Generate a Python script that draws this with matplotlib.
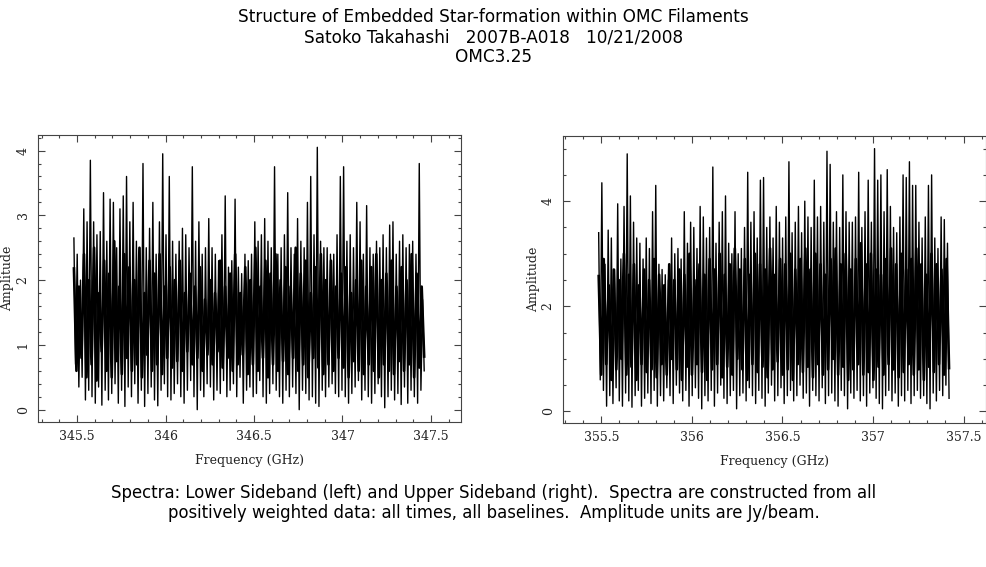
import numpy as np
import matplotlib
matplotlib.use("Agg")
import matplotlib.pyplot as plt
from matplotlib.ticker import MultipleLocator

# ---------------- data ----------------
title_lines = ["Structure of Embedded Star-formation within OMC Filaments",
               "Satoko Takahashi   2007B-A018   10/21/2008",
               "OMC3.25"]
caption_lines = ["Spectra: Lower Sideband (left) and Upper Sideband (right).  Spectra are constructed from all",
                 "positively weighted data: all times, all baselines.  Amplitude units are Jy/beam."]

lsb_range = [345.482, 347.462]   # GHz, first/last channel
usb_range = [355.485, 357.420]

# spike tops and deep dips along the band, left to right
lsb_peaks = [2.65, 2.4, 2.0, 3.1, 2.9, 3.85, 2.9, 2.7, 2.75, 3.35,
             2.6, 3.25, 3.2, 2.5, 3.1, 3.3, 3.6, 2.9, 3.2, 2.6,
             2.5, 3.8, 2.5, 2.8, 3.2, 2.4, 2.9, 3.95, 2.7, 3.6,
             2.6, 2.4, 2.6, 2.8, 2.7, 2.5, 3.75, 2.6, 2.9, 2.4,
             2.5, 2.95, 2.5, 2.4, 2.3, 2.7, 3.3, 2.2, 2.3, 3.25,
             2.2, 2.1, 2.4, 2.3, 2.4, 2.9, 2.6, 2.7, 2.95, 2.6,
             2.5, 3.75, 2.4, 2.5, 2.7, 3.35, 2.5, 2.4, 2.95, 2.6,
             2.5, 3.2, 3.6, 2.7, 4.05, 2.6, 2.5, 2.5, 2.4, 2.4,
             2.7, 3.6, 3.75, 2.6, 2.7, 2.5, 3.2, 2.9, 2.4, 3.15,
             2.5, 2.4, 2.6, 2.5, 2.7, 2.5, 2.85, 2.9, 2.4, 2.6,
             2.7, 2.5, 2.55, 2.6, 2.4, 3.8, 1.7]
lsb_dips = [0.7, 0.35, 0.5, 0.15, 0.3, 0.2, 0.1, 0.35, 0.07, 0.3,
            0.15, 0.25, 0.4, 0.1, 0.3, 0.05, 0.35, 0.2, 0.4, 0.1,
            0.3, 0.05, 0.25, 0.35, 0.15, 0.06, 0.3, 0.4, 0.2, 0.15,
            0.25, 0.4, 0.2, 0.1, 0.3, 0.45, 0.2, 0.0, 0.3, 0.2,
            0.4, 0.35, 0.15, 0.3, 0.25, 0.45, 0.2, 0.3, 0.4, 0.2,
            0.5, 0.1, 0.3, 0.35, 0.2, 0.25, 0.45, 0.2, 0.1, 0.25,
            0.4, 0.3, 0.2, 0.1, 0.3, 0.2, 0.35, 0.25, 0.0, 0.3,
            0.25, 0.15, 0.2, 0.1, 0.05, 0.3, 0.2, 0.35, 0.4, 0.25,
            0.2, 0.3, 0.2, 0.1, 0.25, 0.35, 0.45, 0.15, 0.3, 0.2,
            0.1, 0.25, 0.4, 0.2, 0.03, 0.2, 0.3, 0.15, 0.25, 0.08,
            0.35, 0.1, 0.3, 0.2, 0.1, 0.3, 0.6]
# in-between channels forming the dense core of the band
lsb_core_hi = [2.2, 1.9, 2.4, 2.0, 2.5, 1.8, 2.3, 2.1, 2.6, 1.9,
               2.4, 2.2, 2.0, 2.5, 1.8, 2.3, 2.1, 2.4, 1.9, 2.2,
               2.0, 2.3, 1.8, 2.1, 1.9, 2.2, 1.7, 2.0, 1.8, 2.3,
               1.9, 2.1, 2.4, 1.8, 2.2, 2.0, 2.5, 1.9, 2.3, 2.1,
               2.4, 2.0, 2.2, 1.9, 2.5, 2.1, 2.3, 1.8, 2.2, 2.4,
               2.0, 2.3, 1.9, 2.1, 2.2, 1.8, 2.0, 2.3, 1.9, 2.2,
               2.4, 2.0, 2.1, 2.3, 1.9, 2.2, 2.0, 2.4, 2.1, 1.9]
lsb_core_lo = [0.6, 0.8, 0.5, 0.7, 0.45, 0.9, 0.6, 0.5, 0.75, 0.55,
               0.8, 0.6, 0.7, 0.5, 0.85, 0.6, 0.7, 0.55, 0.8, 0.65,
               0.75, 0.6, 0.9, 0.7, 0.8, 0.6, 0.85, 0.7, 0.9, 0.65,
               0.8, 0.6, 0.7, 0.85, 0.55, 0.7, 0.6, 0.8, 0.5, 0.7,
               0.6, 0.75, 0.55, 0.8, 0.6, 0.7, 0.5, 0.8, 0.65, 0.55,
               0.7, 0.6, 0.8, 0.65, 0.5, 0.75, 0.6, 0.55, 0.7, 0.6,
               0.5, 0.7, 0.6, 0.55, 0.75, 0.6, 0.7, 0.5, 0.65, 0.8]

usb_peaks = [3.4, 4.35, 2.8, 3.45, 3.3, 2.7, 3.95, 2.9, 3.9,
             4.9, 4.1, 3.6, 3.3, 3.2, 2.9, 3.3, 3.1, 3.8, 4.3,
             2.8, 2.7, 2.6, 2.5, 3.3, 3.0, 3.1, 2.9, 3.8, 3.2,
             3.6, 3.5, 3.1, 3.9, 3.7, 3.3, 3.5, 4.65, 3.2, 3.6,
             3.8, 4.1, 3.2, 3.0, 3.8, 3.0, 3.1, 3.5, 4.55, 3.6,
             3.8, 3.3, 4.4, 4.45, 3.5, 3.7, 3.3, 3.9, 3.6, 3.3,
             3.7, 4.75, 3.4, 3.6, 3.9, 3.4, 4.0, 3.7, 3.5, 4.4,
             3.7, 3.9, 3.6, 4.95, 4.7, 3.6, 3.8, 3.5, 4.5, 3.8,
             3.6, 3.6, 3.7, 4.55, 3.5, 3.8, 4.4, 3.6, 5.0, 4.4,
             4.5, 3.8, 4.6, 3.9, 3.5, 3.4, 3.7, 4.5, 4.45, 4.75,
             4.3, 4.3, 3.6, 3.3, 3.7, 4.3, 4.5, 3.3, 3.1, 3.7,
             3.65, 3.2]
usb_dips = [0.6, 0.4, 0.1, 0.3, 0.15, 0.45, 0.2, 0.1, 0.35, 0.2,
            0.08, 0.3, 0.4, 0.1, 0.25, 0.35, 0.15, 0.4, 0.1, 0.3,
            0.2, 0.45, 0.3, 0.15, 0.5, 0.35, 0.2, 0.4, 0.1, 0.3,
            0.45, 0.25, 0.05, 0.3, 0.2, 0.4, 0.1, 0.35, 0.5, 0.25,
            0.15, 0.3, 0.4, 0.05, 0.3, 0.35, 0.2, 0.45, 0.3, 0.15,
            0.4, 0.25, 0.1, 0.35, 0.5, 0.2, 0.3, 0.45, 0.15, 0.3,
            0.4, 0.2, 0.3, 0.5, 0.25, 0.35, 0.1, 0.4, 0.3, 0.2,
            0.45, 0.15, 0.3, 0.35, 0.2, 0.1, 0.4, 0.3, 0.05, 0.35,
            0.25, 0.4, 0.2, 0.3, 0.1, 0.35, 0.45, 0.25, 0.15, 0.05,
            0.3, 0.4, 0.2, 0.35, 0.1, 0.3, 0.2, 0.4, 0.15, 0.3,
            0.4, 0.25, 0.3, 0.15, 0.05, 0.35, 0.2, 0.4, 0.3, 0.5, 0.25]
usb_core_hi = [2.6, 2.9, 2.4, 2.7, 2.5, 3.0, 2.6, 2.8, 2.4, 2.7,
               2.5, 2.9, 2.6, 2.4, 2.8, 2.5, 2.7, 2.6, 3.0, 2.5,
               2.8, 2.6, 2.9, 2.7, 3.0, 2.6, 2.8, 3.1, 2.7, 2.9,
               2.6, 3.0, 2.8, 2.7, 3.1, 2.6, 2.9, 2.8, 3.0, 2.7,
               2.9, 3.1, 2.7, 3.0, 2.8, 2.6, 2.9, 3.1, 2.8, 3.0,
               2.7, 2.9, 3.2, 2.8, 3.0, 2.7, 2.6, 2.9, 3.1, 2.8,
               3.0, 2.7, 2.9, 3.1, 2.8, 2.6, 3.0, 2.8, 2.7, 2.9]
usb_core_lo = [0.7, 0.9, 0.6, 0.8, 1.0, 0.7, 0.85, 0.6, 0.9, 0.75,
               0.8, 0.65, 0.9, 0.7, 1.0, 0.8, 0.6, 0.85, 0.7, 0.9,
               0.75, 0.6, 0.8, 0.9, 0.65, 0.85, 0.7, 1.0, 0.8, 0.6,
               0.9, 0.75, 0.85, 0.65, 0.8, 0.95, 0.7, 0.8, 0.6, 0.9,
               0.75, 0.85, 0.65, 0.9, 0.7, 0.8, 1.0, 0.7, 0.85, 0.6,
               0.8, 0.9, 0.7, 0.75, 0.6, 0.85, 0.7, 0.9, 0.8, 0.65,
               0.75, 0.9, 0.7, 0.8, 0.6, 0.85, 0.75, 0.9, 0.7, 0.8]

x_ticks_lsb = [345.5, 346, 346.5, 347, 347.5]
x_tick_labels_lsb = ["345.5", "346", "346.5", "347", "347.5"]
x_ticks_usb = [355.5, 356, 356.5, 357, 357.5]
x_tick_labels_usb = ["355.5", "356", "356.5", "357", "357.5"]
y_ticks_lsb = [0, 1, 2, 3, 4]
y_ticks_usb = [0, 2, 4]

# ---------------- figure ----------------
plt.rcParams['font.family'] = ['DejaVu Sans']
fig = plt.figure(figsize=(9.87, 5.67), dpi=100)

for i, line in enumerate(title_lines):
    fig.text(0.5, 1 - (17 + 20 * i) / 567, line, ha='center', va='center',
             fontsize=12.2, color='black')
for i, line in enumerate(caption_lines):
    fig.text(0.5, 1 - (493 + 20 * i) / 567, line, ha='center', va='center',
             fontsize=11.9, color='black')


def interleave(a, b):
    n = min(len(a), len(b))
    y = np.empty(2 * n)
    y[0::2] = a[:n]
    y[1::2] = b[:n]
    return y


def panel(rect, frange, peaks, dips, core_hi, core_lo, xlim, ylim, xt, xtl, yt,
          yminor, ylab_x):
    ax = fig.add_axes(rect)
    y1 = interleave(peaks, dips)
    x1 = np.linspace(frange[0], frange[1], len(y1))
    y2 = interleave(core_hi, core_lo)
    x2 = np.linspace(frange[0], frange[1], len(y2))
    ax.plot(x2, y2, color='black', lw=1.9, solid_capstyle='butt')
    ax.plot(x1, y1, color='black', lw=1.0)
    ax.set_xlim(*xlim)
    ax.set_ylim(*ylim)
    ax.set_xticks(xt)
    ax.set_xticklabels(xtl)
    ax.set_yticks(yt)
    ax.xaxis.set_minor_locator(MultipleLocator(0.1))
    ax.yaxis.set_minor_locator(MultipleLocator(yminor))
    ax.tick_params(which='both', direction='in', top=True, right=True,
                   color='#444444', width=0.8)
    ax.tick_params(which='major', length=5, labelsize=9, labelcolor='#222222', pad=6)
    ax.tick_params(which='minor', length=2.3)
    for lab in ax.get_xticklabels() + ax.get_yticklabels():
        lab.set_family('DejaVu Serif')
    for lab in ax.get_yticklabels():
        lab.set_rotation(90)
        lab.set_va('center')
    for s in ax.spines.values():
        s.set_color('#444444')
        s.set_linewidth(0.8)
    ax.set_xlabel('Frequency (GHz)', family='DejaVu Serif', fontsize=9,
                  color='#222222', labelpad=8)
    ax.set_ylabel('Amplitude', family='DejaVu Serif', fontsize=9,
                  color='#222222')
    ax.yaxis.set_label_coords(ylab_x, 0.5)
    return ax


panel([38 / 987, 1 - 422 / 567, 423 / 987, 287 / 567], lsb_range, lsb_peaks, lsb_dips,
      lsb_core_hi, lsb_core_lo,
      (345.279, 347.67), (-0.19, 4.24), x_ticks_lsb, x_tick_labels_lsb, y_ticks_lsb,
      0.2, -0.057)
panel([563 / 987, 1 - 423 / 567, 423 / 987, 287 / 567], usb_range, usb_peaks, usb_dips,
      usb_core_hi, usb_core_lo,
      (355.288, 357.624), (-0.22, 5.24), x_ticks_usb, x_tick_labels_usb, y_ticks_usb,
      0.5, -0.054)

fig.savefig('out.png', dpi=100)
